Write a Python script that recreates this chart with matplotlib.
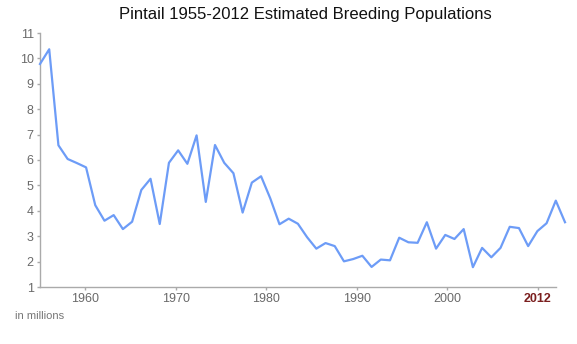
import matplotlib
matplotlib.use("Agg")
import matplotlib.pyplot as plt

plt.rcParams['font.family'] = ['Liberation Sans', 'DejaVu Sans']

# Pintail breeding population estimates (millions)
years = list(range(1955, 2013))
population = [
    9.78, 10.36, 6.58, 6.04, 5.88, 5.71, 4.22, 3.61, 3.83, 3.28,
    3.57, 4.82, 5.26, 3.48, 5.89, 6.38, 5.85, 6.97, 4.35, 6.59,
    5.89, 5.48, 3.93, 5.11, 5.36, 4.49, 3.47, 3.69, 3.49, 2.96,
    2.51, 2.73, 2.61, 2.01, 2.10, 2.23, 1.79, 2.08, 2.05, 2.94,
    2.76, 2.74, 3.55, 2.51, 3.05, 2.89, 3.28, 1.78, 2.54, 2.17,
    2.54, 3.37, 3.32, 2.61, 3.20, 3.51, 4.40, 3.55,
]

tick_years = [1960, 1970, 1980, 1990, 2000, 2010]
tick_labels = ['1960', '1970', '1980', '1990', '2000', '2012']
y_ticks = list(range(1, 12))

W, H = 577, 344
fig = plt.figure(figsize=(W / 100, H / 100), dpi=100)

axis_color = '#aaaaaa'
label_color = '#6a6a6a'

# frame with the axes and ticks
ax = fig.add_axes([40 / W, 57 / H, 516 / W, 254 / H])
ax.set_xlim(1955, 2012)
ax.set_ylim(1, 11)
for side in ['top', 'right']:
    ax.spines[side].set_visible(False)
for side in ['left', 'bottom']:
    ax.spines[side].set_color(axis_color)
    ax.spines[side].set_linewidth(1)
ax.set_xticks(tick_years)
ax.set_xticklabels(tick_labels)
ax.set_yticks(y_ticks)
ax.tick_params(axis='both', colors=axis_color, length=2.5, width=1,
               labelcolor=label_color)
ax.tick_params(axis='x', labelsize=9, pad=2)
ax.tick_params(axis='y', labelsize=9, pad=2)
last = ax.get_xticklabels()[-1]
last.set_color('#7b1f1f')
last.set_fontweight('bold')
ax.patch.set_alpha(0)

# data line, drawn a bit wider than the frame like the original
ax2 = fig.add_axes([40 / W, 57 / H, 525 / W, 254 / H])
ax2.set_xlim(years[0], years[-1])
ax2.set_ylim(1, 11)
ax2.axis('off')
ax2.plot(years, population, color='#6d9cf7', linewidth=1.6, clip_on=False)

fig.text(305 / W, 1 - 14 / H, 'Pintail 1955-2012 Estimated Breeding Populations',
         ha='center', va='center', fontsize=12, color='#111111')
fig.text(15 / W, 1 - 316 / H, 'in millions', ha='left', va='center',
         fontsize=8, color='#777777')

fig.savefig('out.png', dpi=100)
